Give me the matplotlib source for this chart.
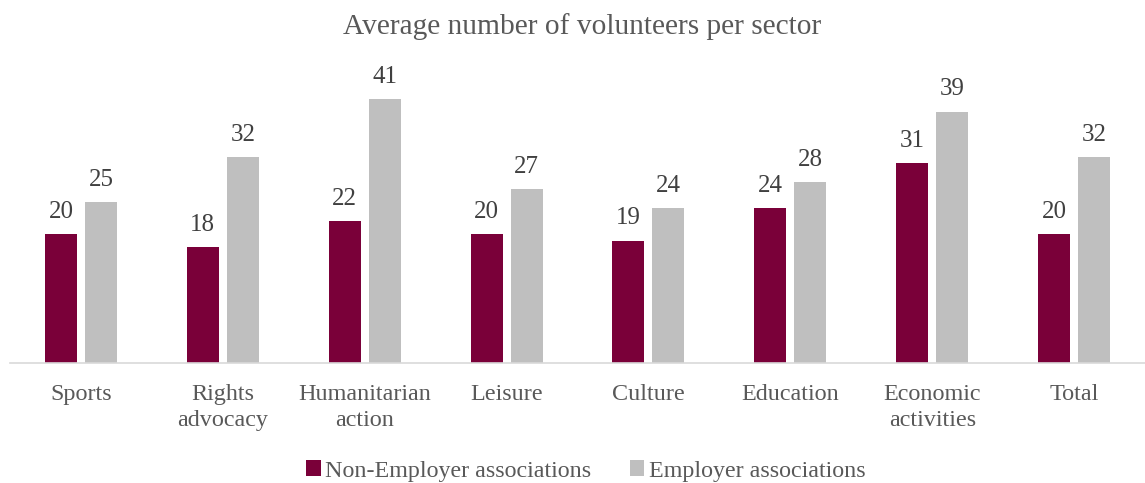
import numpy as np
import matplotlib.pyplot as plt

plt.rcParams['font.family'] = ['Liberation Serif', 'DejaVu Serif']

sectors = ["Sports", "Rights\nadvocacy", "Humanitarian\naction", "Leisure",
           "Culture", "Education", "Economic\nactivities", "Total"]
non_employer = [20, 18, 22, 20, 19, 24, 31, 20]
employer = [25, 32, 41, 27, 24, 28, 39, 32]

maroon = "#7A0039"
grey = "#BFBFBF"

fig = plt.figure(figsize=(11.45, 4.83), dpi=100)
ax = fig.add_axes([10 / 1145, 1 - 363 / 483, 1135 / 1145, 303 / 483])

x = np.arange(len(sectors))
w = 0.2255
off = 0.141
b1 = ax.bar(x - off, non_employer, w, color=maroon, label="Non-Employer associations")
b2 = ax.bar(x + off, employer, w, color=grey, label="Employer associations")

for bars in (b1, b2):
    ax.bar_label(bars, padding=8, fontsize=18, color="#404040")

ax.set_xlim(-0.5, len(sectors) - 0.5)
ax.set_ylim(0, 47)
ax.set_yticks([])
ax.set_xticks(x)
ax.set_xticklabels(sectors, fontsize=17.4, color="#595959", linespacing=1.3, va="top")
ax.tick_params(axis="x", length=0, pad=15)
for s in ["top", "right", "left"]:
    ax.spines[s].set_visible(False)
ax.spines["bottom"].set_color("#D9D9D9")
ax.spines["bottom"].set_linewidth(1.2)

fig.text(582 / 1145, 1 - 27 / 483, "Average number of volunteers per sector",
         ha="center", va="center", fontsize=21.2, color="#595959")

fig.legend(handles=[b1, b2], loc="center", bbox_to_anchor=(586 / 1145, 1 - 471 / 483),
           ncol=2, frameon=False, fontsize=17.3, labelcolor="#595959",
           handlelength=0.6, handleheight=0.6, handletextpad=0.2, columnspacing=1.6)

fig.savefig("out.png", dpi=100)
